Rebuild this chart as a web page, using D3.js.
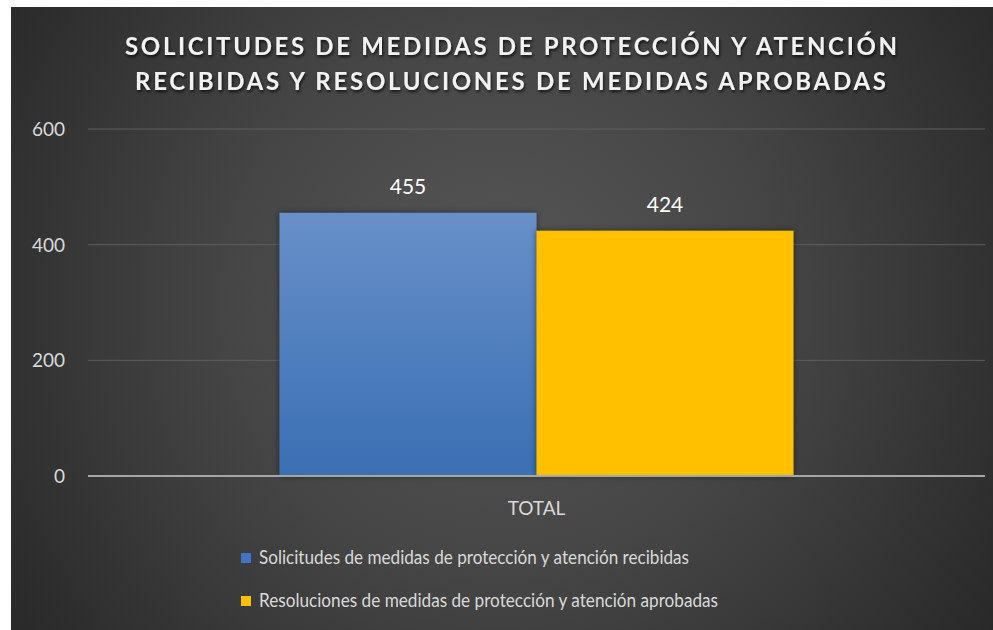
<!DOCTYPE html>
<html><head><meta charset="utf-8">
<script src="https://cdn.jsdelivr.net/npm/d3@7"></script>
<style>html,body{margin:0;padding:0;background:#fff;}svg{display:block;}</style>
</head><body>
<script>
const categories = ["TOTAL"];
const seriesNames = ["Solicitudes de medidas de protección y atención recibidas",
                     "Resoluciones de medidas de protección y atención aprobadas"];
const seriesValues = [[455], [424]];
const seriesColors = ["#4472c4", "#ffc000"];
const yTicks = [0, 200, 400, 600];
const titleLines = ["SOLICITUDES DE MEDIDAS DE PROTECCIÓN Y ATENCIÓN",
                    "RECIBIDAS Y RESOLUCIONES DE MEDIDAS APROBADAS"];

const W = 993, H = 630;
const svg = d3.select("body").append("svg").attr("width", W).attr("height", H);
const defs = svg.append("defs");
const bg = defs.append("radialGradient").attr("id","bg").attr("gradientUnits","userSpaceOnUse")
  .attr("cx", 500).attr("cy", 300).attr("r", 620);
bg.append("stop").attr("offset","0").attr("stop-color","#575757");
bg.append("stop").attr("offset","0.45").attr("stop-color","#454545");
bg.append("stop").attr("offset","1").attr("stop-color","#262626");
const bl = defs.append("linearGradient").attr("id","blueg").attr("x1",0).attr("y1",0).attr("x2",0).attr("y2",1);
bl.append("stop").attr("offset","0").attr("stop-color","#6890c8");
bl.append("stop").attr("offset","1").attr("stop-color","#3a6fb3");
const sh = defs.append("filter").attr("id","tshadow").attr("x","-10%").attr("y","-30%").attr("width","120%").attr("height","160%");
sh.append("feDropShadow").attr("dx",1).attr("dy",2).attr("stdDeviation",1.6).attr("flood-color","#000").attr("flood-opacity",0.75);
const bsh = defs.append("filter").attr("id","bshadow").attr("x","-10%").attr("y","-10%").attr("width","120%").attr("height","120%");
bsh.append("feDropShadow").attr("dx",0).attr("dy",0).attr("stdDeviation",3).attr("flood-color","#000").attr("flood-opacity",0.5);

svg.append("rect").attr("x",11).attr("y",7).attr("width",W-11).attr("height",H-7).attr("fill","url(#bg)");

const font = "Lato, 'Open Sans', sans-serif";
// title
const titleY = [55, 90];
const titleSpan = [[125, 897], [135, 886]];
titleLines.forEach((t,i)=>{
  svg.append("text").attr("x",(titleSpan[i][0]+titleSpan[i][1])/2).attr("y",titleY[i])
    .attr("text-anchor","middle").attr("font-family",font).attr("font-weight","bold")
    .attr("font-size",24).attr("fill","#f2f2f2").attr("filter","url(#tshadow)")
    .attr("textLength", titleSpan[i][1]-titleSpan[i][0]).attr("lengthAdjust","spacing")
    .text(t);
});

const m = {left: 88, right: 985, top: 129, bottom: 476};
const y = d3.scaleLinear().domain([0, 600]).range([m.bottom, m.top]);
const x0 = d3.scaleBand().domain(categories).range([m.left, m.right]).paddingInner(0).paddingOuter(0.3726);
const x1 = d3.scaleBand().domain(d3.range(seriesNames.length)).range([0, x0.bandwidth()]);

// grid
svg.append("g").selectAll("line").data(yTicks.filter(d=>d>0)).join("line")
  .attr("x1", m.left).attr("x2", m.right).attr("y1", d=>y(d)).attr("y2", d=>y(d))
  .attr("stroke","#5e5e5e").attr("stroke-width",1);

// y axis labels
const yAxis = d3.axisLeft(y).tickValues(yTicks).tickSize(0).tickPadding(0);
const ya = svg.append("g").attr("transform",`translate(65,0)`).call(yAxis);
ya.select(".domain").remove();
ya.selectAll("text").attr("font-family",font).attr("font-size",19).attr("fill","#d9d9d9").attr("dy","0.35em");

// bars
const g = svg.append("g");
categories.forEach((c,ci)=>{
  seriesNames.forEach((s,si)=>{
    const v = seriesValues[si][ci];
    const bx = x0(c) + x1(si);
    g.append("rect").attr("x",bx).attr("y",y(v)).attr("width",x1.bandwidth()).attr("height",y(0)-y(v))
      .attr("fill", si===0 ? "url(#blueg)" : seriesColors[si]).attr("filter","url(#bshadow)");
  });
});
categories.forEach((c,ci)=>{
  seriesNames.forEach((s,si)=>{
    const v = seriesValues[si][ci];
    const bx = x0(c) + x1(si) + x1.bandwidth()/2;
    svg.append("text").attr("x",bx).attr("y",y(v)-19).attr("text-anchor","middle")
      .attr("font-family",font).attr("font-size",21).attr("fill","#ffffff").text(v);
  });
});

// x axis line
svg.append("line").attr("x1",m.left).attr("x2",m.right).attr("y1",y(0)).attr("y2",y(0))
  .attr("stroke","#a6a6a6").attr("stroke-width",2.2);
const xAxis = d3.axisBottom(x0).tickSize(0).tickPadding(0);
const xa = svg.append("g").attr("transform",`translate(0,${y(0)+39})`).call(xAxis);
xa.select(".domain").remove();
xa.selectAll("text").attr("font-family",font).attr("font-size",19).attr("fill","#d9d9d9").attr("dy",0);

// legend
const legY = [558, 601];
const legTextW = [430, 459];
seriesNames.forEach((s,i)=>{
  svg.append("rect").attr("x",241).attr("y",legY[i]-5).attr("width",10).attr("height",10).attr("fill",seriesColors[i]);
  svg.append("text").attr("x",259).attr("y",legY[i]).attr("dy","0.35em")
    .attr("font-family",font).attr("font-size",18.5).attr("fill","#d9d9d9")
    .attr("textLength", legTextW[i]).attr("lengthAdjust","spacingAndGlyphs").text(s);
});
</script>
</body></html>
